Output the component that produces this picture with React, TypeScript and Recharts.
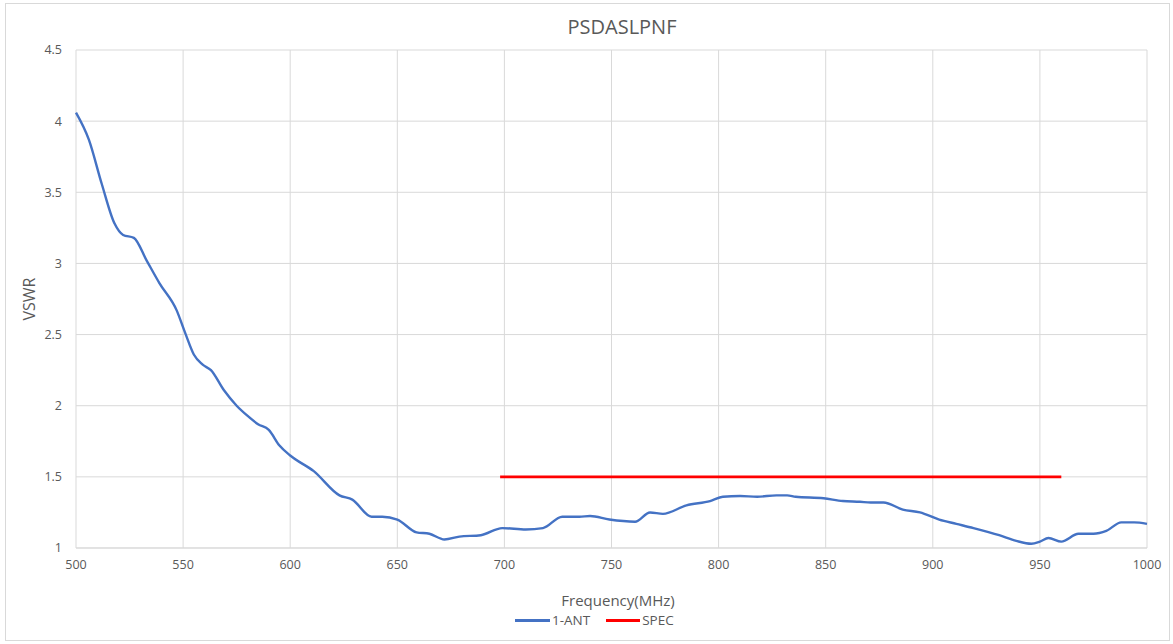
import { LineChart, Line, XAxis, YAxis, CartesianGrid } from "recharts";

const FREQ = [
  500, 506, 512, 518, 522, 527, 533, 539, 547, 551, 555, 559, 563, 569, 575, 580, 585, 590, 595, 600,
  611, 623, 629, 638, 643, 650, 659, 665, 672, 679, 689, 699, 710, 718, 727, 735, 740, 749, 761, 768,
  774, 785, 796, 802, 810, 818, 827, 832, 836, 849, 858, 866, 871, 877, 886, 894, 903, 911, 919, 931,
  939, 946, 950, 954, 960, 968, 975, 981, 988, 994, 1000,
];
const ANT = [
  4.06, 3.87, 3.56, 3.28, 3.2, 3.18, 3.02, 2.86, 2.67, 2.51, 2.36, 2.29, 2.25, 2.11, 2.0, 1.93, 1.87, 1.83, 1.72, 1.65,
  1.54, 1.37, 1.34, 1.22, 1.22, 1.2, 1.11, 1.1, 1.06, 1.08, 1.09, 1.14, 1.13, 1.14, 1.22, 1.22, 1.225, 1.2, 1.185, 1.25,
  1.24, 1.3, 1.33, 1.36, 1.365, 1.36, 1.37, 1.37, 1.36, 1.35, 1.33, 1.325, 1.32, 1.32, 1.27, 1.25, 1.2, 1.17, 1.14, 1.09,
  1.05, 1.03, 1.045, 1.07, 1.045, 1.1, 1.1, 1.12, 1.18, 1.18, 1.17,
];
const SPEC_FREQ = [698, 960];
const SPEC_VAL = [1.5, 1.5];
const X_TICKS = [500, 550, 600, 650, 700, 750, 800, 850, 900, 950, 1000];
const Y_TICKS = [1, 1.5, 2, 2.5, 3, 3.5, 4, 4.5];

const antData = FREQ.map((f, i) => ({ f, v: ANT[i] }));
const specData = SPEC_FREQ.map((f, i) => ({ f, v: SPEC_VAL[i] }));

const font = "'Open Sans', 'Liberation Sans', sans-serif";
const tick = { fill: "#595959", fontSize: 12.5, fontFamily: font };

export default function App() {
  return (
    <div style={{ position: "fixed", left: 0, top: 0, width: 1173, height: 644, background: "#fff", fontFamily: font }}>
      <div style={{ position: "absolute", left: 5, top: 3, width: 1163, height: 636, border: "1px solid #d9d9d9" }} />
      <div style={{ position: "absolute", top: 13, left: 622, transform: "translateX(-50%)", whiteSpace: "nowrap", fontSize: 20, color: "#595959" }}>
        PSDASLPNF
      </div>
      <LineChart width={1173} height={644} data={antData} margin={{ top: 50, right: 26, bottom: 66, left: 26 }}>
        <CartesianGrid stroke="#d9d9d9" />
        <XAxis
          dataKey="f"
          type="number"
          domain={[500, 1000]}
          ticks={X_TICKS}
          height={30}
          stroke="#d9d9d9"
          tickLine={false}
          tick={tick}
          tickMargin={6}
        />
        <YAxis
          type="number"
          domain={[1, 4.5]}
          ticks={Y_TICKS}
          width={50}
          axisLine={false}
          tickLine={false}
          tick={tick}
          tickMargin={8}
        />
        <Line data={antData} dataKey="v" type="monotone" stroke="#4472C4" strokeWidth={2.4} dot={false} isAnimationActive={false} />
        <Line data={specData} dataKey="v" type="linear" stroke="#FF0000" strokeWidth={2.6} dot={false} isAnimationActive={false} />
      </LineChart>
      <div
        style={{ position: "absolute", left: 29, top: 299, transform: "translate(-50%, -50%) rotate(-90deg)", fontSize: 16, color: "#595959" }}
      >
        VSWR
      </div>
      <div style={{ position: "absolute", top: 590, left: 618, transform: "translateX(-50%)", whiteSpace: "nowrap", fontSize: 15, color: "#595959" }}>
        Frequency(MHz)
      </div>
      <div style={{ position: "absolute", top: 611, left: 515, display: "flex", fontSize: 13.5, color: "#595959" }}>
        <span style={{ display: "flex", alignItems: "center", marginRight: 16 }}>
          <span style={{ width: 35, height: 3, background: "#4472C4", marginRight: 2 }} />
          1-ANT
        </span>
        <span style={{ display: "flex", alignItems: "center" }}>
          <span style={{ width: 34, height: 3, background: "#FF0000", marginRight: 2 }} />
          SPEC
        </span>
      </div>
    </div>
  );
}
